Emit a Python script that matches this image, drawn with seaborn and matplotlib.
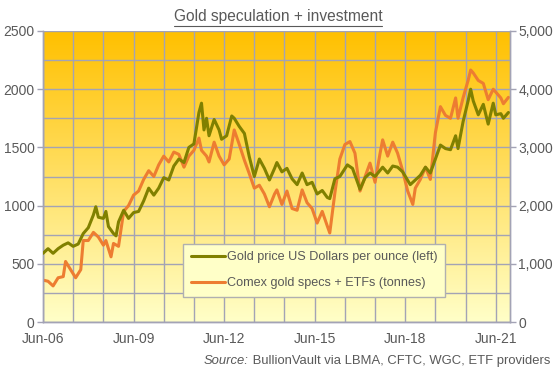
import numpy as np
import pandas as pd
import seaborn as sns
import matplotlib.pyplot as plt
import matplotlib.dates as mdates
from matplotlib.lines import Line2D

# gold price, US$ per ounce (left axis)
gold_dates = ["2006-06", "2006-08", "2006-10", "2006-12", "2007-02", "2007-04", "2007-06", "2007-08",
              "2007-10", "2007-12", "2008-02", "2008-03", "2008-04", "2008-06", "2008-07", "2008-08",
              "2008-10", "2008-11", "2008-12", "2009-02", "2009-04", "2009-06", "2009-08", "2009-10",
              "2009-12", "2010-02", "2010-04", "2010-06", "2010-08", "2010-10", "2010-12", "2011-02",
              "2011-04", "2011-06", "2011-08", "2011-09", "2011-10", "2011-11", "2011-12", "2012-02",
              "2012-04", "2012-05", "2012-07", "2012-09", "2012-10", "2012-12", "2013-02", "2013-04",
              "2013-06", "2013-08", "2013-10", "2013-12", "2014-02", "2014-03", "2014-05", "2014-07",
              "2014-09", "2014-11", "2015-01", "2015-03", "2015-05", "2015-07", "2015-09", "2015-11",
              "2015-12", "2016-02", "2016-04", "2016-07", "2016-09", "2016-11", "2016-12", "2017-02",
              "2017-04", "2017-06", "2017-09", "2017-11", "2018-01", "2018-03", "2018-05", "2018-08",
              "2018-10", "2018-12", "2019-02", "2019-04", "2019-06", "2019-08", "2019-10", "2019-12",
              "2020-02", "2020-03", "2020-05", "2020-07", "2020-08", "2020-09", "2020-11", "2021-01",
              "2021-03", "2021-05", "2021-06", "2021-08", "2021-09", "2021-11"]
gold_price = [590, 630, 590, 630, 660, 680, 650, 670,
              760, 810, 920, 990, 900, 890, 950, 820,
              760, 740, 860, 960, 890, 940, 950, 1040,
              1150, 1090, 1150, 1240, 1220, 1340, 1400, 1370,
              1500, 1530, 1800, 1880, 1650, 1750, 1600, 1740,
              1650, 1570, 1600, 1770, 1750, 1680, 1620, 1420,
              1250, 1400, 1320, 1220, 1320, 1370, 1290, 1320,
              1230, 1180, 1280, 1180, 1200, 1100, 1130, 1070,
              1060, 1230, 1250, 1350, 1320, 1200, 1140, 1240,
              1280, 1250, 1330, 1280, 1340, 1330, 1290, 1180,
              1220, 1260, 1330, 1280, 1400, 1520, 1490, 1480,
              1600, 1490, 1720, 1900, 2000, 1900, 1780, 1870,
              1700, 1880, 1780, 1790, 1750, 1800]

# Comex speculators + ETF holdings, tonnes (right axis)
specs_dates = ["2006-06", "2006-08", "2006-10", "2006-12", "2007-02", "2007-03", "2007-05", "2007-07",
               "2007-09", "2007-10", "2007-12", "2008-02", "2008-04", "2008-06", "2008-07", "2008-09",
               "2008-10", "2008-12", "2009-02", "2009-04", "2009-06", "2009-08", "2009-10", "2009-12",
               "2010-02", "2010-04", "2010-06", "2010-08", "2010-10", "2010-12", "2011-02", "2011-04",
               "2011-06", "2011-08", "2011-09", "2011-11", "2011-12", "2012-02", "2012-04", "2012-06",
               "2012-08", "2012-10", "2012-12", "2013-02", "2013-04", "2013-06", "2013-08", "2013-10",
               "2013-12", "2014-02", "2014-03", "2014-05", "2014-07", "2014-09", "2014-11", "2015-01",
               "2015-03", "2015-05", "2015-07", "2015-09", "2015-11", "2015-12", "2016-02", "2016-04",
               "2016-06", "2016-08", "2016-10", "2016-12", "2017-02", "2017-04", "2017-06", "2017-08",
               "2017-09", "2017-11", "2018-01", "2018-03", "2018-05", "2018-07", "2018-09", "2018-10",
               "2018-12", "2019-02", "2019-04", "2019-06", "2019-08", "2019-10", "2019-12", "2020-02",
               "2020-03", "2020-05", "2020-07", "2020-08", "2020-09", "2020-11", "2021-01", "2021-03",
               "2021-05", "2021-06", "2021-08", "2021-09", "2021-11"]
specs_tonnes = [720, 700, 620, 760, 780, 1040, 900, 760,
                900, 1400, 1400, 1540, 1460, 1320, 1400, 1120,
                1350, 1300, 1900, 2000, 2180, 2250, 2450, 2600,
                2500, 2700, 2850, 2750, 2920, 2880, 2660, 2850,
                2950, 3160, 2950, 2850, 2750, 3090, 2850, 2700,
                2800, 3300, 3050, 2780, 2550, 2300, 2350, 2200,
                1980, 2200, 2270, 2020, 2250, 1950, 1920, 2270,
                2050, 1950, 1700, 1900, 1650, 1530, 2220, 2800,
                3050, 3100, 2900, 2250, 2500, 2730, 2400, 2900,
                3130, 2850, 3090, 2900, 2600, 2250, 2020, 2300,
                2450, 2660, 2450, 3250, 3700, 3550, 3500, 3850,
                3500, 3850, 4150, 4330, 4280, 4150, 4100, 3820,
                4000, 3950, 3850, 3750, 3860]

tick_dates = ["2006-06-01", "2009-06-01", "2012-06-01", "2015-06-01", "2018-06-01", "2021-06-01"]

gold_df = pd.DataFrame({"date": pd.to_datetime(gold_dates), "price": gold_price})
specs_df = pd.DataFrame({"date": pd.to_datetime(specs_dates), "tonnes": specs_tonnes})

sns.set_style("white")
plt.rcParams["font.family"] = ["Liberation Sans", "DejaVu Sans"]

txt = "#595959"
grid_c = "#A3A3B5"
olive = "#808000"
orange = "#ED7D31"

fig = plt.figure(figsize=(5.56, 3.71), dpi=100)
ax = fig.add_axes([43 / 556, 49 / 371, 467 / 556, 291 / 371])
ax2 = ax.twinx()
# gold line sits on top of the tonnes line
ax.set_zorder(ax2.get_zorder() + 1)
ax.patch.set_visible(False)
ax2.xaxis.set_visible(True)

# gradient background on the lower axes
grad = np.linspace(0, 1, 256).reshape(-1, 1)
cmap = plt.matplotlib.colors.LinearSegmentedColormap.from_list("bg", ["#FFC000", "#FFFFC8"])
ax2.imshow(grad, extent=[0, 1, 0, 1], transform=ax2.transAxes, aspect="auto",
           cmap=cmap, zorder=0)

sns.lineplot(data=specs_df, x="date", y="tonnes", ax=ax2, color=orange, lw=2.2, zorder=3)
sns.lineplot(data=gold_df, x="date", y="price", ax=ax, color=olive, lw=2.2, zorder=3)

xmin, xmax = pd.Timestamp("2006-06-01"), pd.Timestamp("2021-11-20")
ax.set_xlim(xmin, xmax)
ax.set_ylim(0, 2500)
ax2.set_ylim(0, 5000)

ax.set_xticks(pd.to_datetime(tick_dates))
ax.xaxis.set_minor_locator(mdates.YearLocator(1, month=6, day=1))
ax.xaxis.set_major_formatter(mdates.DateFormatter("%b-%y"))
ax.set_yticks(range(0, 2501, 500))
ax.set_yticks(range(0, 2501, 250), minor=True)
ax2.set_yticks(range(0, 5001, 1000))
ax2.set_yticks(range(0, 5001, 500), minor=True)
ax2.yaxis.set_major_formatter(plt.FuncFormatter(lambda v, p: f"{int(v):,}"))

# grid drawn on the lower axes so it stays behind both lines
ax2.set_axisbelow(True)
ax2.grid(True, which="both", axis="both", color=grid_c, lw=1.0, zorder=1)

for a in (ax, ax2):
    a.set_xlabel("")
    a.set_ylabel("")
    for s in a.spines.values():
        s.set_color(grid_c)
        s.set_linewidth(1.0)
    a.spines["top"].set_visible(False)

ax.tick_params(axis="both", which="major", colors=grid_c, labelcolor=txt, labelsize=10,
               length=4, width=1, direction="out")
ax.tick_params(axis="both", which="minor", length=0)
ax.tick_params(axis="y", pad=2)
ax.tick_params(axis="x", pad=3)
ax2.tick_params(axis="y", which="major", colors=grid_c, labelcolor=txt, labelsize=10,
                length=4, width=1, direction="out", pad=2)
ax2.tick_params(axis="y", which="minor", length=0)
ax2.tick_params(axis="x", which="both", length=0, labelbottom=False)

handles = [Line2D([], [], color=olive, lw=2.2), Line2D([], [], color=orange, lw=2.2)]
labels = ["Gold price US Dollars per ounce (left)", "Comex gold specs + ETFs (tonnes)"]
leg = ax.legend(handles, labels, loc="lower left", bbox_to_anchor=(0.287, 0.065),
                fontsize=9.1, frameon=True, fancybox=False, framealpha=1,
                facecolor="#FFFFC8", edgecolor="#B0B0B0", handlelength=2.7,
                handletextpad=0.15, labelspacing=1.1, borderpad=0.6)
for t in leg.get_texts():
    t.set_color(txt)

title = fig.text(0.5, 1 - 17 / 371, "Gold speculation + investment", ha="center", va="center",
                 fontsize=11.2, color=txt)
src1 = fig.text(0.989, 1 - 361 / 371, " BullionVault via LBMA, CFTC, WGC, ETF providers",
                ha="right", va="center", fontsize=9.4, color=txt)

fig.canvas.draw()
r = fig.canvas.get_renderer()
bb = src1.get_window_extent(r)
fig.text(bb.x0 / fig.bbox.width, 1 - 361 / 371, "Source:", ha="right", va="center",
         fontsize=9.4, color=txt, style="italic")
tb = title.get_window_extent(r)
fig.add_artist(Line2D([tb.x0 / fig.bbox.width, tb.x1 / fig.bbox.width],
                      [(tb.y0 - 1) / fig.bbox.height] * 2, color=txt, lw=0.8))

fig.savefig("out.png", dpi=100)
